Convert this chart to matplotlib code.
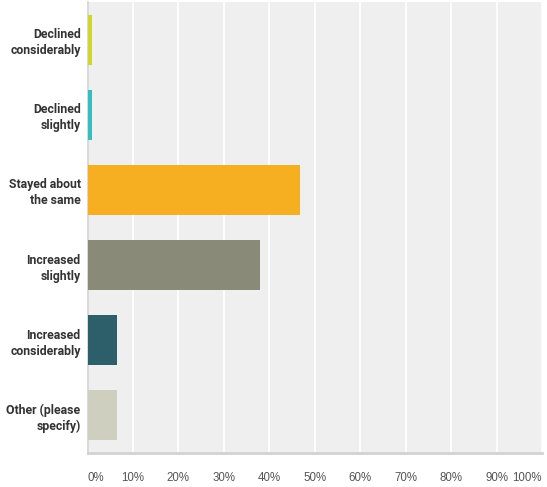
import matplotlib.pyplot as plt

# survey answers, top to bottom
categories = ['Declined\nconsiderably', 'Declined\nslightly', 'Stayed about\nthe same',
              'Increased\nslightly', 'Increased\nconsiderably', 'Other (please\nspecify)']
percent = [1.0, 1.0, 46.7, 38.0, 6.4, 6.4]
colors = ['#d3d52e', '#33bfc0', '#f5af21', '#8a8a78', '#2d5f6b', '#cfcfc0']
ticks = [0, 10, 20, 30, 40, 50, 60, 70, 80, 90, 100]
tick_labels = ['0%', '10%', '20%', '30%', '40%', '50%', '60%', '70%', '80%', '90%', '100%']

fig = plt.figure(figsize=(5.47, 4.87), dpi=100)
ax = fig.add_axes([87.5 / 547, 34 / 487, (542 - 87.5) / 547, (485 - 34) / 487])
ax.set_facecolor('#efefef')

y = list(range(len(categories)))
ax.barh(y, percent, height=0.665, color=colors, zorder=3)

ax.set_xlim(0, 100)
ax.set_ylim(len(categories) - 0.5, -0.5)
ax.set_xticks(ticks)
ax.set_xticklabels(tick_labels, fontsize=8.3, color='#555555', family=['Liberation Sans', 'DejaVu Sans'])
ax.get_xticklabels()[0].set_ha('left')
ax.get_xticklabels()[-1].set_ha('right')
ax.set_yticks(y)
ax.set_yticklabels(categories, fontsize=8.8, fontweight='bold', color='#333333',
                   family=['Roboto', 'DejaVu Sans'], linespacing=1.3)

ax.grid(axis='x', color='white', linewidth=1.2, zorder=1)
ax.tick_params(length=0)
ax.tick_params(axis='x', pad=14)
ax.tick_params(axis='y', pad=5)

for s in ['top', 'right']:
    ax.spines[s].set_visible(False)
ax.spines['left'].set_color('#d2d2d2')
ax.spines['bottom'].set_color('#d2d2d2')
ax.spines['bottom'].set_linewidth(2)
ax.spines['left'].set_linewidth(1.2)

fig.savefig('out.png', dpi=100)
